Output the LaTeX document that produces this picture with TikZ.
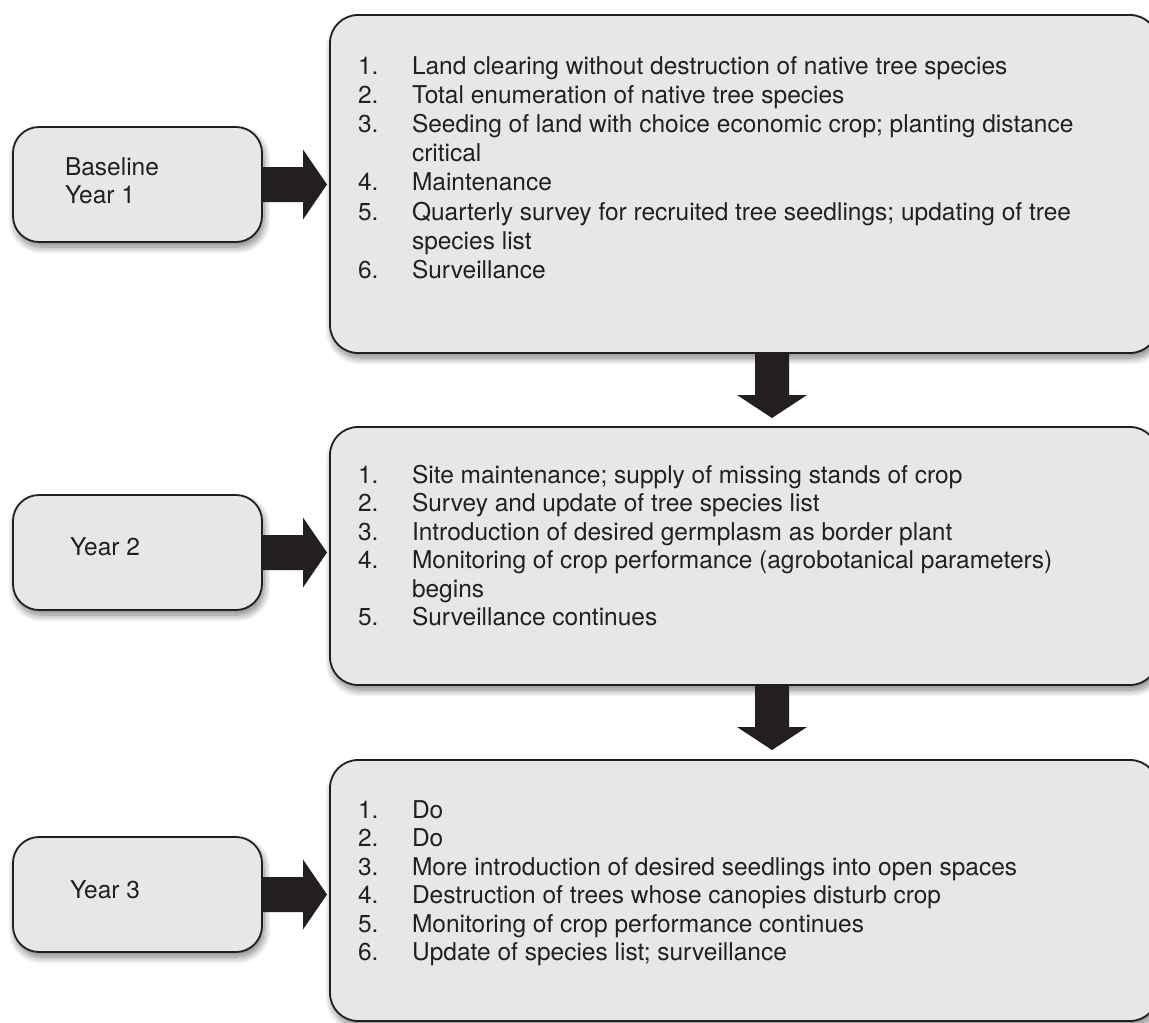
\documentclass[tikz,border=0pt]{standalone}
\usepackage{fontspec}
\setmainfont{TeX Gyre Heros}
\usetikzlibrary{calc,shadows.blur}
\definecolor{boxfill}{HTML}{E6E7E8}
\definecolor{ink}{HTML}{231F20}
\begin{document}
\begin{tikzpicture}[x=1pt,y=-1pt,
  every node/.style={inner sep=0pt,outer sep=0pt},
  softshadow/.style={blur shadow={shadow xshift=2pt,shadow yshift=-5pt,shadow blur radius=7pt,shadow blur steps=12,shadow opacity=50}},
  listbox/.style={draw=ink,line width=1.8pt,fill=boxfill,rounded corners=28pt,minimum width=828pt,softshadow},
  yearbox/.style={draw=ink,line width=1.8pt,fill=boxfill,rounded corners=26pt,minimum width=249pt,minimum height=115pt,softshadow},
  txt/.style={font=\fontsize{24.5}{28}\selectfont,text=ink,anchor=base west},
  arrowfill/.style={fill=ink,draw=none}
]
\useasboundingbox (0,0) rectangle (1149,1023);
\clip (0,0) rectangle (1149,1023);

% small boxes
\node[yearbox] (s1) at (137.5,184.5) {};
\node[yearbox] (s2) at (137.5,552.5) {};
\node[yearbox] (s3) at (137.5,894.5) {};
\node[txt] (s1a) at (65,175) {Baseline};
\node[txt] (s1b) at (65,203) {Year 1};
\node[txt] (s2a) at (70,555) {Year 2};
\node[txt] (s3a) at (70,898) {Year 3};

% big boxes
\node[listbox,minimum height=338pt] (b1) at (744,184) {};
\node[listbox,minimum height=258pt] (b2) at (744,556) {};
\node[listbox,minimum height=261pt] (b3) at (744,890.5) {};

% box 1 list
\node[txt] (b1n1) at (358,74) {1.};
\node[txt] (b1t1) at (412,74) {Land clearing without destruction of native tree species};
\node[txt] (b1n2) at (358,103.2) {2.};
\node[txt] (b1t2) at (412,103.2) {Total enumeration of native tree species};
\node[txt] (b1n3) at (358,132.4) {3.};
\node[txt] (b1t3) at (412,132.4) {Seeding of land with choice economic crop; planting distance};
\node[txt] (b1t3b) at (412,161.6) {critical};
\node[txt] (b1n4) at (358,190.8) {4.};
\node[txt] (b1t4) at (412,190.8) {Maintenance};
\node[txt] (b1n5) at (358,220) {5.};
\node[txt] (b1t5) at (412,220) {Quarterly survey for recruited tree seedlings; updating of tree};
\node[txt] (b1t5b) at (412,249.2) {species list};
\node[txt] (b1n6) at (358,278.4) {6.};
\node[txt] (b1t6) at (412,278.4) {Surveillance};

% box 2 list
\node[txt] (b2n1) at (358,483) {1.};
\node[txt] (b2t1) at (412,483) {Site maintenance; supply of missing stands of crop};
\node[txt] (b2n2) at (358,511.5) {2.};
\node[txt] (b2t2) at (412,511.5) {Survey and update of tree species list};
\node[txt] (b2n3) at (358,540) {3.};
\node[txt] (b2t3) at (412,540) {Introduction of desired germplasm as border plant};
\node[txt] (b2n4) at (358,568.5) {4.};
\node[txt] (b2t4) at (412,568.5) {Monitoring of crop performance (agrobotanical parameters)};
\node[txt] (b2t4b) at (412,597) {begins};
\node[txt] (b2n5) at (358,625.5) {5.};
\node[txt] (b2t5) at (412,625.5) {Surveillance continues};

% box 3 list
\node[txt] (b3n1) at (358,818) {1.};
\node[txt] (b3t1) at (412,818) {Do};
\node[txt] (b3n2) at (358,846.5) {2.};
\node[txt] (b3t2) at (412,846.5) {Do};
\node[txt] (b3n3) at (358,875) {3.};
\node[txt] (b3t3) at (412,875) {More introduction of desired seedlings into open spaces};
\node[txt] (b3n4) at (358,903.5) {4.};
\node[txt] (b3t4) at (412,903.5) {Destruction of trees whose canopies disturb crop};
\node[txt] (b3n5) at (358,932) {5.};
\node[txt] (b3t5) at (412,932) {Monitoring of crop performance continues};
\node[txt] (b3n6) at (358,960.5) {6.};
\node[txt] (b3t6) at (412,960.5) {Update of species list; surveillance};

% right arrows (small box -> list box)
\foreach \k in {1,2,3}{
  \coordinate (e\k) at ($(s\k.east -| b\k.west)+(-3,0)$);
  \fill[arrowfill] ($(s\k.east)+(0,-17.5)$) -- ($(e\k)+(-24,-17.5)$) -- ($(e\k)+(-24,-35)$)
     -- (e\k) -- ($(e\k)+(-24,35)$) -- ($(e\k)+(-24,17.5)$) -- ($(s\k.east)+(0,17.5)$) -- cycle;
}

% down arrows (list box -> next list box)
\coordinate (d1s) at ($(b1.south)+(28,0)$);
\coordinate (d1e) at ($(b2.north)+(28,-9)$);
\coordinate (d2s) at ($(b2.south)+(28,0)$);
\coordinate (d2e) at ($(b3.north)+(28,-10)$);
\foreach \k in {1,2}{
  \fill[arrowfill] ($(d\k s)+(-17,0)$) -- ($(d\k e)+(-17,-23)$) -- ($(d\k e)+(-35,-23)$)
     -- (d\k e) -- ($(d\k e)+(35,-23)$) -- ($(d\k e)+(17,-23)$) -- ($(d\k s)+(17,0)$) -- cycle;
}
\end{tikzpicture}
\end{document}
